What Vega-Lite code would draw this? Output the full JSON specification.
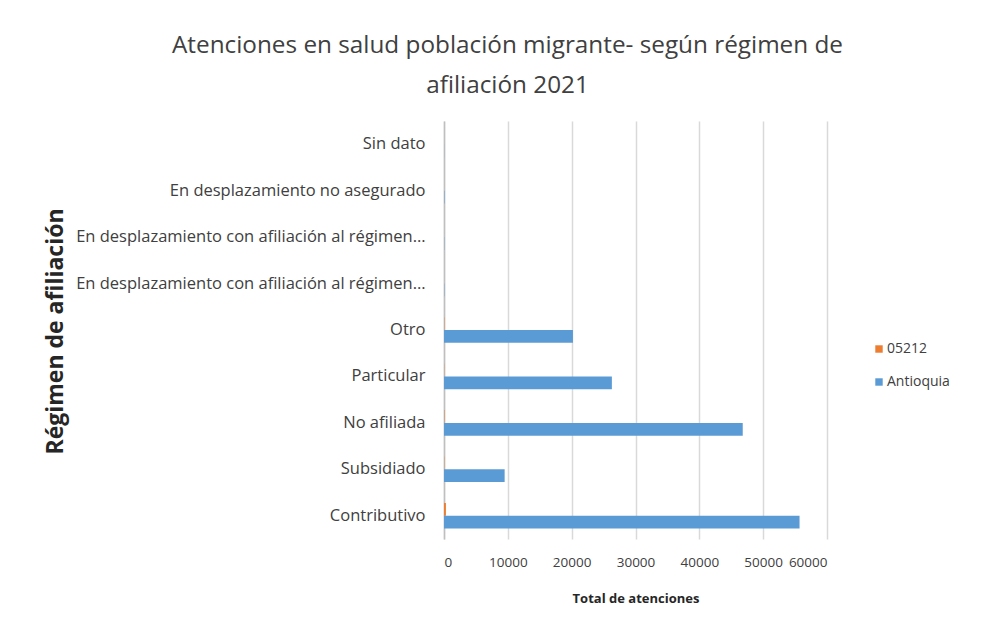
{
  "$schema": "https://vega.github.io/schema/vega-lite/v6.json",
  "autosize": "none",
  "width": 383,
  "height": 418,
  "padding": {"left": 444, "top": 121, "right": 157, "bottom": 87},
  "background": "white",
  "title": {
    "text": ["Atenciones en salud población migrante- según régimen de", "afiliación  2021"],
    "anchor": "middle",
    "dx": -128,
    "offset": 23,
    "font": "Open Sans",
    "fontSize": 24.3,
    "fontWeight": "normal",
    "color": "#404040",
    "lineHeight": 40
  },
  "data": {
    "values": [
      {"regimen": "Contributivo", "serie": "05212", "valor": 300},
      {"regimen": "Contributivo", "serie": "Antioquia", "valor": 55700},
      {"regimen": "Subsidiado", "serie": "05212", "valor": 40},
      {"regimen": "Subsidiado", "serie": "Antioquia", "valor": 9500},
      {"regimen": "No afiliada", "serie": "05212", "valor": 60},
      {"regimen": "No afiliada", "serie": "Antioquia", "valor": 46800},
      {"regimen": "Particular", "serie": "05212", "valor": 30},
      {"regimen": "Particular", "serie": "Antioquia", "valor": 26300},
      {"regimen": "Otro", "serie": "05212", "valor": 50},
      {"regimen": "Otro", "serie": "Antioquia", "valor": 20200},
      {"regimen": "En desplazamiento con afiliación al régimen contributivo", "serie": "05212", "valor": 0},
      {"regimen": "En desplazamiento con afiliación al régimen contributivo", "serie": "Antioquia", "valor": 40},
      {"regimen": "En desplazamiento con afiliación al régimen subsidiado", "serie": "05212", "valor": 0},
      {"regimen": "En desplazamiento con afiliación al régimen subsidiado", "serie": "Antioquia", "valor": 30},
      {"regimen": "En desplazamiento no asegurado", "serie": "05212", "valor": 0},
      {"regimen": "En desplazamiento no asegurado", "serie": "Antioquia", "valor": 60},
      {"regimen": "Sin dato", "serie": "05212", "valor": 0},
      {"regimen": "Sin dato", "serie": "Antioquia", "valor": 10}
    ]
  },
  "mark": {"type": "bar"},
  "encoding": {
    "y": {
      "field": "regimen",
      "type": "nominal",
      "sort": ["Sin dato", "En desplazamiento no asegurado", "En desplazamiento con afiliación al régimen subsidiado", "En desplazamiento con afiliación al régimen contributivo", "Otro", "Particular", "No afiliada", "Subsidiado", "Contributivo"],
      "scale": {"paddingInner": 0.45, "paddingOuter": 0.225},
      "axis": {
        "title": "Régimen de afiliación",
        "titleFont": "Open Sans",
        "titleFontSize": 23,
        "titleFontWeight": "bold",
        "titleColor": "#262626",
        "titleX": -389,
        "titleY": 210,
        "titleAngle": -90,
        "titleBaseline": "middle",
        "titleAlign": "center",
        "labelFont": "Open Sans",
        "labelFontSize": 16.5,
        "labelColor": "#404040",
        "labelLimit": 420,
        "labelExpr": "length(datum.label) > 45 ? substring(datum.label, 0, 43) + '…' : datum.label",
        "labelPadding": 19,
        "ticks": false,
        "domain": true,
        "domainColor": "#bfbfbf",
        "domainWidth": 1.5,
        "grid": false
      }
    },
    "yOffset": {"field": "serie", "type": "nominal", "sort": ["05212", "Antioquia"]},
    "x": {
      "field": "valor",
      "type": "quantitative",
      "scale": {"domain": [0, 60000], "nice": false},
      "axis": {
        "title": "Total de atenciones",
        "titleFont": "Open Sans",
        "titleFontSize": 13,
        "titleFontWeight": "bold",
        "titleColor": "#262626",
        "titlePadding": 24,
        "labelFont": "Open Sans",
        "labelFontSize": 13.5,
        "labelColor": "#404040",
        "labelPadding": 16,
        "values": [0, 10000, 20000, 30000, 40000, 50000, 60000],
        "format": "d",
        "ticks": false,
        "domain": false,
        "grid": true,
        "gridColor": "#d9d9d9",
        "gridWidth": 1.5
      }
    },
    "color": {
      "field": "serie",
      "type": "nominal",
      "scale": {"domain": ["05212", "Antioquia"], "range": ["#ED7D31", "#5B9BD5"]},
      "legend": {
        "title": null,
        "orient": "none",
        "legendX": 428,
        "legendY": 221,
        "symbolType": "square",
        "symbolSize": 55,
        "labelFont": "Open Sans",
        "labelFontSize": 14,
        "labelColor": "#404040",
        "rowPadding": 19,
        "labelOffset": 1
      }
    }
  },
  "config": {"view": {"stroke": null}}
}
